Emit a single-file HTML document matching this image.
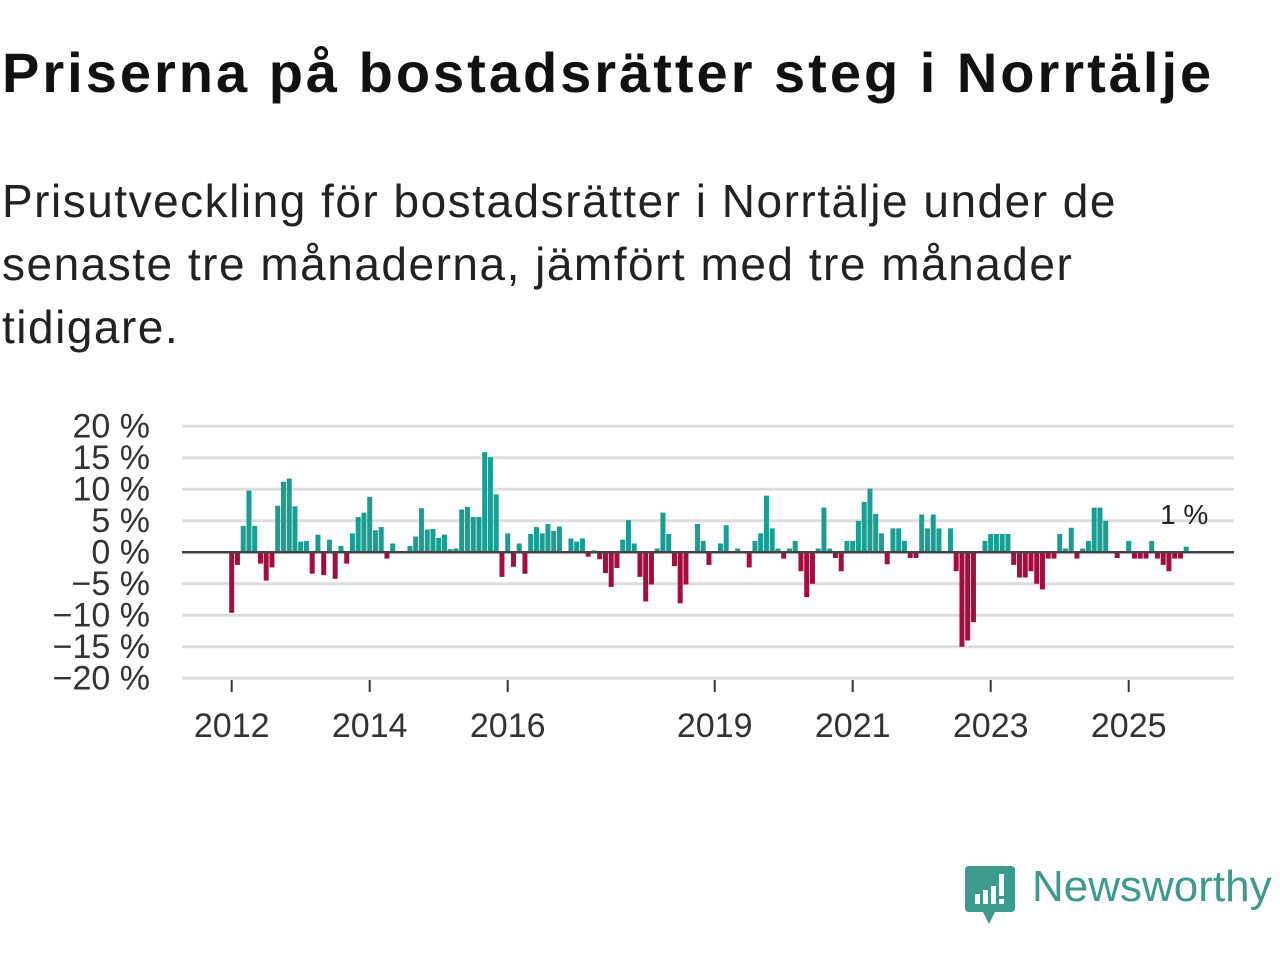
<!DOCTYPE html>
<html><head><meta charset="utf-8"><style>
body{margin:0;width:1280px;height:960px;background:#fff;font-family:"Liberation Sans",sans-serif;overflow:hidden;position:relative}
h1{position:absolute;left:2px;top:40px;margin:0;font-size:56px;font-weight:bold;color:#111;letter-spacing:3px;white-space:nowrap}
.sub{position:absolute;left:2px;top:170px;margin:0;font-size:46px;line-height:63px;color:#222;letter-spacing:1.5px;white-space:nowrap}
svg{position:absolute;left:0;top:0}
</style></head><body>
<h1>Priserna på bostadsrätter steg i Norrtälje</h1>
<p class="sub">Prisutveckling för bostadsrätter i Norrtälje under de<br>senaste tre månaderna, jämfört med tre månader<br>tidigare.</p>
<svg id="chart" width="1280" height="960"></svg>
<div style="position:absolute;left:965px;top:866px;width:315px;height:60px">
<svg width="52" height="60" style="left:0;top:0"><path d="M4 0H46Q50 0 50 4V42Q50 46 46 46H30L24 58L18 46H4Q0 46 0 42V4Q0 0 4 0Z" fill="#3d9a8f"/><rect x="10" y="28" width="5" height="10" fill="#fff"/><rect x="18" y="24" width="5" height="14" fill="#fff"/><rect x="26" y="20" width="5" height="18" fill="#fff"/><rect x="34" y="8" width="5" height="22" fill="#fff"/><rect x="34" y="33" width="5" height="5" fill="#fff"/></svg>
<span style="position:absolute;left:67px;top:-4px;font-size:44px;color:#3d9a8f;letter-spacing:0px">Newsworthy</span>
</div>
<script>
const values=[-9.6,-2,4.2,9.8,4.2,-1.8,-4.5,-2.4,7.4,11.2,11.7,7.3,1.7,1.8,-3.4,2.8,-3.6,2,-4.2,1,-1.8,3,5.6,6.3,8.8,3.5,4,-1,1.4,0,0,1,2.5,7,3.6,3.7,2.3,2.8,0.5,0.6,6.8,7.2,5.6,5.6,15.9,15.1,9.2,-3.9,3,-2.3,1.4,-3.4,2.9,4,3,4.5,3.4,4.1,0,2.2,1.7,2.2,-0.7,0.3,-1.1,-3.3,-5.5,-2.5,2,5.1,1.4,-3.9,-7.8,-5.1,0.6,6.3,2.9,-2.2,-8.1,-5.1,0,4.5,1.8,-2,0,1.4,4.3,0,0.6,0.2,-2.4,1.8,3,9,3.8,0.6,-1,0.6,1.8,-3,-7.1,-5,0.6,7.1,0.6,-0.9,-3,1.8,1.8,5,8,10.1,6.1,3,-1.9,3.8,3.8,1.8,-0.9,-0.9,6,3.8,6,3.8,0,3.8,-3,-15,-14,-11.1,0,1.8,2.9,2.9,2.9,2.9,-2,-4,-4,-3,-5,-5.9,-1,-1,2.9,0.6,3.9,-1,0.6,1.8,7.1,7.1,5,0,-0.9,0,1.8,-1,-1,-1,1.8,-1,-2,-3,-1,-1,0.9];
const yTicks=[20,15,10,5,0,-5,-10,-15,-20];
const xYears=[2012,2014,2016,2019,2021,2023,2025];
const lastLabel="1 %";
const NS="http://www.w3.org/2000/svg";
const svg=document.getElementById('chart');
const x0=231.7,step=5.75,bw=5;
const y=v=>552.3-v*6.3;
const xi=i=>x0+step*i;
const xYear=yr=>x0+step*12*(yr-2012);
function mk(t,a){const e=document.createElementNS(NS,t);for(const k in a)e.setAttribute(k,a[k]);svg.appendChild(e);return e;}
yTicks.forEach(t=>{
  if(t!==0){const l=mk('line',{x1:182,x2:1234,y1:y(t),y2:y(t),stroke:'#ddd','stroke-width':3});
  
  }
  const tx=mk('text',{x:150,y:y(t)+11,'text-anchor':'end','font-size':34,fill:'#333','font-family':'Liberation Sans, sans-serif'});
  tx.textContent=(t<0?'\u2212'+(-t):t)+' %';
  
  
});
values.forEach((v,i)=>{
  const r=mk('rect',{x:xi(i)-bw/2,y:v>=0?y(v):y(0),width:bw,height:Math.abs(y(v)-y(0)),fill:v>=0?'#1a9e94':'#a50d3d'});
  
  
});
const zl=mk('line',{x1:182,x2:1234,y1:y(0),y2:y(0),stroke:'#444','stroke-width':2.5});


xYears.forEach(yr=>{
  const tk=mk('line',{x1:xYear(yr),x2:xYear(yr),y1:680,y2:692,stroke:'#333','stroke-width':2});
  
  
  const tx=mk('text',{x:xYear(yr),y:737,'text-anchor':'middle','font-size':34,fill:'#333','font-family':'Liberation Sans, sans-serif'});
  tx.textContent=yr;
  
  
});
const lb=mk('text',{x:xi(values.length-1)-2,y:524,'text-anchor':'middle','font-size':28,fill:'#222','font-family':'Liberation Sans, sans-serif'});
lb.textContent=lastLabel;


</script>
</body></html>
